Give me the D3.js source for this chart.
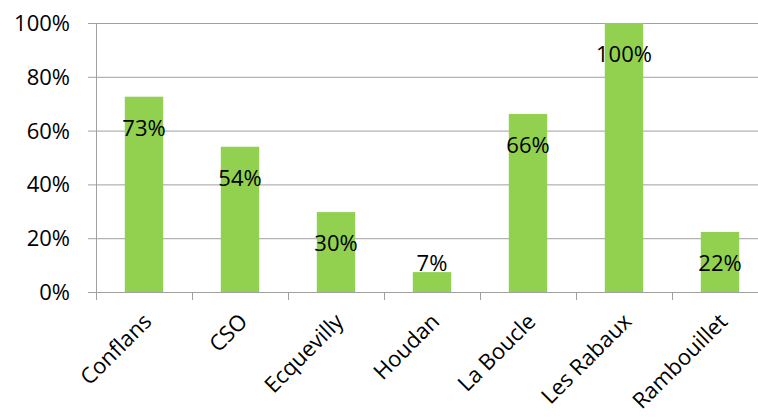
<!DOCTYPE html>
<html><head><meta charset="utf-8">
<script src="https://cdn.jsdelivr.net/npm/d3@7"></script>
<style>body{margin:0;background:#fff}svg{display:block}</style>
</head><body>
<svg id="c" width="758" height="419"></svg>
<script>
const categories = ["Conflans","CSO","Ecquevilly","Houdan","La Boucle","Les Rabaux","Rambouillet"];
const values = [0.726, 0.54, 0.297, 0.074, 0.662, 1.0, 0.223];
const yTicks = [0, 0.2, 0.4, 0.6, 0.8, 1.0];

(function () {
const svg = d3.select("#c");
const font = "'Open Sans', sans-serif";
const pLeft = 96, pRight = 768, pTop = 23, pBottom = 292;
const x = d3.scaleBand().domain(categories).range([pLeft, pRight]).paddingInner(0.6).paddingOuter(0.3);
const xt = d3.scaleBand().domain(categories).range([pLeft, pRight]).padding(0);
const y = d3.scaleLinear().domain([0, 1]).range([pBottom, pTop]);
const fmt = d3.format(".0%");

svg.append("g").selectAll("line").data(yTicks).join("line")
  .attr("x1", pLeft - 8).attr("x2", 758)
  .attr("y1", d => y(d) + 0.5).attr("y2", d => y(d) + 0.5)
  .attr("stroke", "#a0a0a0").attr("stroke-width", 1);

svg.append("line").attr("x1", pLeft + 0.5).attr("x2", pLeft + 0.5)
  .attr("y1", pTop).attr("y2", pBottom + 8).attr("stroke", "#a0a0a0");

svg.append("g").selectAll("line").data(categories.concat(["_end"])).join("line")
  .attr("x1", (d, i) => Math.round(pLeft + i * xt.step()) + 0.5)
  .attr("x2", (d, i) => Math.round(pLeft + i * xt.step()) + 0.5)
  .attr("y1", pBottom).attr("y2", pBottom + 8).attr("stroke", "#a0a0a0");

svg.append("g").selectAll("text").data(yTicks).join("text")
  .attr("x", 70).attr("y", d => y(d)).attr("dy", "0.36em")
  .attr("text-anchor", "end").attr("font-family", font).attr("font-size", 22)
  .attr("fill", "#000").text(d => fmt(d));

svg.append("g").selectAll("rect").data(values).join("rect")
  .attr("x", (d, i) => x(categories[i])).attr("width", x.bandwidth())
  .attr("y", d => y(d)).attr("height", d => y(0) - y(d))
  .attr("fill", "#92d050");

svg.append("g").selectAll("text").data(values).join("text")
  .attr("x", (d, i) => x(categories[i]) + x.bandwidth() / 2)
  .attr("y", d => Math.min(y(d) + 31, y(0) - 29)).attr("dy", "0.36em")
  .attr("text-anchor", "middle").attr("font-family", font).attr("font-size", 22)
  .attr("fill", "#000").text(d => fmt(d));

svg.append("g").selectAll("text").data(categories).join("text")
  .attr("transform", d => `translate(${xt(d) + xt.bandwidth() / 2 - 2},${pBottom + 20}) rotate(-45)`)
  .attr("text-anchor", "end").attr("dy", "0.7em")
  .attr("font-family", font).attr("font-size", 22).attr("fill", "#000")
  .text(d => d);
})();
</script>
</body></html>
